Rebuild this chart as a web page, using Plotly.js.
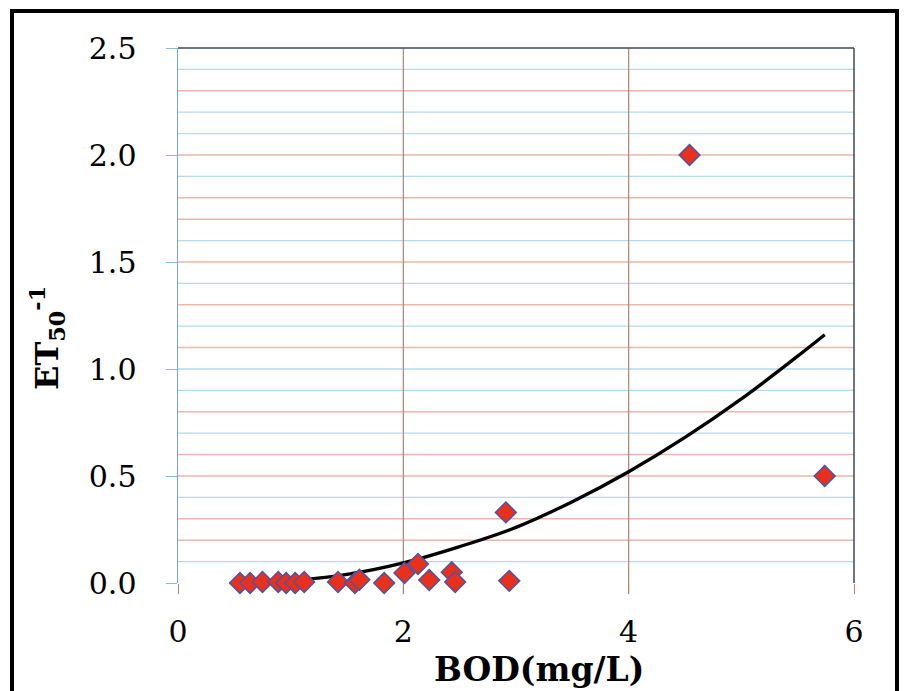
<!DOCTYPE html>
<html>
<head>
<meta charset="utf-8">
<script src="https://cdn.plot.ly/plotly-3.0.1.min.js"></script>
<style>
html,body{margin:0;padding:0;background:#fff;overflow:hidden;}
#frame{position:absolute;left:10px;top:9px;width:889px;height:700px;border:4px solid #000;box-sizing:border-box;}
#chart{position:absolute;left:0;top:0;width:915px;height:691px;}
</style>
</head>
<body>
<div id="frame"></div>
<div id="chart"></div>
<script>
// Observed data (BOD vs ET50^-1)
const bodValues = [0.55, 0.64, 0.75, 0.89, 0.96, 1.04, 1.12, 1.42, 1.57, 1.61, 1.83, 2.01, 2.13, 2.23, 2.43, 2.46, 2.91, 2.94, 4.54, 5.74];
const etValues  = [0.0, 0.0, 0.005, 0.005, 0.0, 0.0, 0.005, 0.005, 0.0, 0.015, 0.0, 0.047, 0.089, 0.014, 0.05, 0.005, 0.33, 0.01, 2.0, 0.5];
// Trend line
const trendX = [0.55, 1.0, 1.5, 2.0, 2.5, 3.0, 3.5, 4.0, 4.5, 5.0, 5.5, 5.74];
const trendY = [0.0, 0.01, 0.04, 0.094, 0.17, 0.26, 0.38, 0.52, 0.68, 0.86, 1.06, 1.16];
// Axis tick labels
const xTicks = [0, 2, 4, 6];
const xTickText = ['0', '2', '4', '6'];
const yTicks = [0, 0.5, 1.0, 1.5, 2.0, 2.5];
const yTickText = ['0.0', '0.5', '1.0', '1.5', '2.0', '2.5'];
// Horizontal grid levels (as coloured in the reference)
const redGrid = [2.3, 2.0, 1.8, 1.7, 1.5, 1.3, 1.1, 0.8, 0.6, 0.5, 0.3, 0.2];
const blueGrid = [2.4, 2.2, 2.1, 1.9, 1.6, 1.4, 1.2, 1.0, 0.9, 0.7, 0.4, 0.1];
const vGrid = [2, 4];

const shapes = [];
blueGrid.forEach(v => shapes.push({type:'line', xref:'paper', yref:'y', x0:0, x1:1, y0:v, y1:v, layer:'below', line:{color:'#b3dbeb', width:1.3}}));
redGrid.forEach(v => shapes.push({type:'line', xref:'paper', yref:'y', x0:0, x1:1, y0:v, y1:v, layer:'below', line:{color:'#e9b8a8', width:1.5}}));
vGrid.forEach(v => shapes.push({type:'line', xref:'x', yref:'paper', x0:v, x1:v, y0:-0.02, y1:1, layer:'below', line:{color:'#b08274', width:1.2}}));
// top and right borders
shapes.push({type:'line', xref:'paper', yref:'paper', x0:0, x1:1, y0:1, y1:1, line:{color:'#3e4a52', width:1.5}});
shapes.push({type:'line', xref:'paper', yref:'paper', x0:1, x1:1, y0:0, y1:1, line:{color:'#3e4a52', width:1.5}});

const traces = [
  {x: trendX, y: trendY, mode:'lines', line:{color:'#000', width:3.3, shape:'spline'}, hoverinfo:'skip', showlegend:false},
  {x: bodValues, y: etValues, mode:'markers', marker:{symbol:'diamond', size:16, color:'#e8301c', line:{color:'#4e55a0', width:1.5}}, showlegend:false, cliponaxis:false}
];

const fontFam = '"DejaVu Serif", "Liberation Serif", serif';
const layout = {
  width:915, height:691,
  margin:{l:178, r:61, t:48, b:108},
  paper_bgcolor:'rgba(0,0,0,0)', plot_bgcolor:'#fff',
  showlegend:false,
  xaxis:{range:[0,6], tickvals:xTicks, ticktext:xTickText, showgrid:false, zeroline:false,
         showline:false, ticks:'outside', ticklen:10, tickcolor:'#b08274',
         tickfont:{family:fontFam, size:30, color:'#000'}, ticklabelstandoff:12},
  yaxis:{range:[0,2.5], tickvals:yTicks, ticktext:yTickText, showgrid:false, zeroline:false,
         showline:true, linecolor:'#6aaed0', linewidth:1.5, ticks:'outside', ticklen:11, tickcolor:'#8bbbd3',
         tickfont:{family:fontFam, size:30, color:'#000'}, ticklabelstandoff:23},
  shapes: shapes,
  annotations:[
    {text:'<b>BOD(mg/L)</b>', xref:'paper', yref:'paper', x:(539-178)/676, y:(583-669)/535, xanchor:'center', yanchor:'middle', showarrow:false, font:{family:fontFam, size:33, color:'#000'}},
    {text:'<b>ET<sub>50</sub><sup>-1</sup></b>', xref:'paper', yref:'paper', x:(47-178)/676, y:(583-338)/535, xanchor:'center', yanchor:'middle', textangle:-90, showarrow:false, font:{family:fontFam, size:32, color:'#000'}}
  ]
};
Plotly.newPlot('chart', traces, layout, {staticPlot:true, displayModeBar:false});
</script>
</body>
</html>
